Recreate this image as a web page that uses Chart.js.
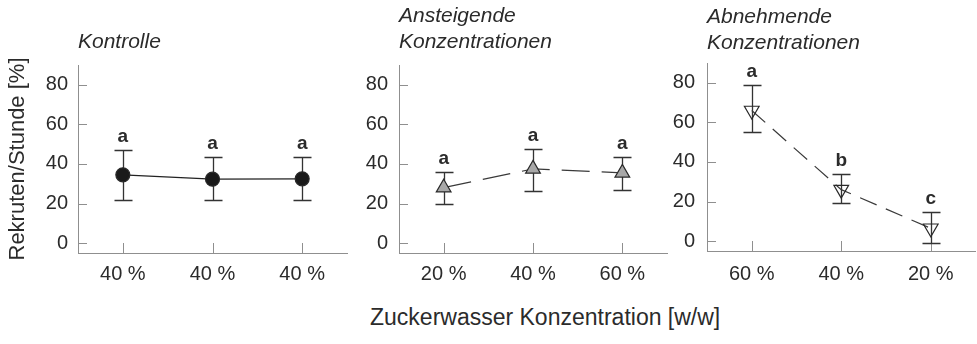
<!DOCTYPE html>
<html>
<head>
<meta charset="utf-8">
<script src="https://cdn.jsdelivr.net/npm/chart.js@4/dist/chart.umd.min.js"></script>
<style>
  html, body { margin: 0; padding: 0; background: #fff; }
  #wrap { position: relative; width: 977px; height: 344px; overflow: hidden;
          font-family: "Liberation Sans", Arial, sans-serif; }
  #wrap canvas { position: absolute; top: 0; }
  #xtitle { position: absolute; left: 370px; top: 303px; font-size: 23px; line-height: 28px;
            color: #2b2b2b; white-space: nowrap; }
</style>
</head>
<body>
<div id="wrap">
  <canvas id="c1" width="348" height="300" style="left:0px"></canvas>
  <canvas id="c2" width="320" height="300" style="left:348px"></canvas>
  <canvas id="c3" width="317" height="300" style="left:660px"></canvas>
  <div id="xtitle">Zuckerwasser Konzentration [w/w]</div>
</div>
<script>
// Tick values of the shared y axis (Rekruten/Stunde in %)
const yTickValues = [0, 20, 40, 60, 80];

// Kontrolle: constant 40 % sugar water
const kontrolleLabels = ['40 %', '40 %', '40 %'];
const kontrolleMean   = [34.5, 32.3, 32.5];
const kontrolleHigh   = [47, 43.5, 43.5];
const kontrolleLow    = [22, 22, 22];
const kontrolleGroups = ['a', 'a', 'a'];

// Ansteigende Konzentrationen
const ansteigendLabels = ['20 %', '40 %', '60 %'];
const ansteigendMean   = [28, 37.5, 35.5];
const ansteigendHigh   = [36, 47.5, 43.5];
const ansteigendLow    = [20, 26.5, 27];
const ansteigendGroups = ['a', 'a', 'a'];

// Abnehmende Konzentrationen
const abnehmendLabels = ['60 %', '40 %', '20 %'];
const abnehmendMean   = [66, 26, 6.5];
const abnehmendHigh   = [79, 34, 14.5];
const abnehmendLow    = [55, 19.5, -1];
const abnehmendGroups = ['a', 'b', 'c'];

const FONT = '"Liberation Sans", Arial, sans-serif';
const TEXT = '#2b2b2b';
const AXIS = '#8f8f8f';
const INK  = '#333333';

// Error bars (drawn under the markers) and significance letters above them
const errorBarPlugin = {
  id: 'errorBars',
  beforeDatasetsDraw(chart) {
    const ds = chart.data.datasets[0];
    const xs = chart.scales.x, ys = chart.scales.y, ctx = chart.ctx;
    ctx.save();
    ctx.strokeStyle = INK;
    ctx.lineWidth = 1.3;
    ds.data.forEach((v, i) => {
      const px = Math.round(xs.getPixelForValue(i)) + 0.5;
      const top = Math.round(ys.getPixelForValue(ds.errHigh[i])) + 0.5;
      const bot = Math.round(ys.getPixelForValue(ds.errLow[i])) + 0.5;
      ctx.beginPath();
      ctx.moveTo(px, top); ctx.lineTo(px, bot);
      ctx.moveTo(px - 9, top); ctx.lineTo(px + 9, top);
      ctx.moveTo(px - 9, bot); ctx.lineTo(px + 9, bot);
      ctx.stroke();
    });
    ctx.restore();
  },
  afterDatasetsDraw(chart) {
    const ds = chart.data.datasets[0];
    const xs = chart.scales.x, ys = chart.scales.y, ctx = chart.ctx;
    ctx.save();
    ctx.fillStyle = TEXT;
    ctx.font = 'bold 19px ' + FONT;
    ctx.textAlign = 'center';
    ctx.textBaseline = 'alphabetic';
    ds.data.forEach((v, i) => {
      const px = xs.getPixelForValue(i);
      const top = ys.getPixelForValue(ds.errHigh[i]);
      ctx.fillText(ds.groups[i], px, top - 8);
    });
    ctx.restore();
  }
};

// Short tick marks pointing into the plot area
const innerTicksPlugin = {
  id: 'innerTicks',
  beforeDatasetsDraw(chart) {
    const xs = chart.scales.x, ys = chart.scales.y, ctx = chart.ctx;
    const area = chart.chartArea;
    ctx.save();
    ctx.strokeStyle = AXIS;
    ctx.lineWidth = 1;
    ctx.beginPath();
    ys.ticks.forEach(t => {
      const py = Math.round(ys.getPixelForValue(t.value)) + 0.5;
      ctx.moveTo(area.left, py); ctx.lineTo(area.left + 9, py);
    });
    xs.ticks.forEach((t, i) => {
      const px = Math.round(xs.getPixelForValue(i)) + 0.5;
      ctx.moveTo(px, area.bottom); ctx.lineTo(px, area.bottom - 10);
    });
    ctx.stroke();
    ctx.restore();
  }
};

function makePanel(id, cfg) {
  const ds = {
    data: cfg.mean,
    errHigh: cfg.high,
    errLow: cfg.low,
    groups: cfg.groups,
    borderColor: cfg.lineColor,
    borderWidth: 1.2,
    borderDash: cfg.dash,
    fill: false,
    tension: 0,
    pointStyle: cfg.pointStyle,
    pointRotation: cfg.rotation,
    pointRadius: cfg.radius,
    pointHoverRadius: cfg.radius,
    pointBackgroundColor: cfg.pointFill,
    pointBorderColor: '#2a2a2a',
    pointBorderWidth: 1.2
  };
  return new Chart(document.getElementById(id), {
    type: 'line',
    data: { labels: cfg.labels, datasets: [ds] },
    plugins: [innerTicksPlugin, errorBarPlugin],
    options: {
      responsive: false,
      animation: false,
      layout: { autoPadding: false, padding: { left: 0, right: cfg.padRight, top: 0, bottom: 0 } },
      plugins: {
        legend: { display: false },
        tooltip: { enabled: false },
        title: {
          display: true,
          text: cfg.title,
          align: 'start',
          fullSize: false,
          color: TEXT,
          font: { family: FONT, size: 21, style: 'italic', weight: 'normal', lineHeight: 26 / 21 },
          padding: cfg.titlePad
        }
      },
      scales: {
        x: {
          type: 'category',
          offset: true,
          grid: { display: false, drawTicks: false, tickLength: 0 },
          border: { display: true, color: AXIS, width: 1 },
          ticks: { color: TEXT, font: { family: FONT, size: 20 }, padding: cfg.xPad, maxRotation: 0 },
          afterFit: s => { s.height = cfg.xHeight; s.paddingLeft = 0; s.paddingRight = 0; }
        },
        y: {
          type: 'linear',
          min: -5,
          max: 90,
          grid: { display: false, drawTicks: false, tickLength: 0 },
          border: { display: true, color: AXIS, width: 1 },
          ticks: { color: TEXT, font: { family: FONT, size: 20 }, padding: cfg.yPad },
          afterBuildTicks: s => { s.ticks = yTickValues.map(v => ({ value: v })); },
          afterFit: s => { s.width = cfg.yWidth; s.paddingTop = 0; s.paddingBottom = 0; },
          title: cfg.yTitle
            ? { display: true, text: cfg.yTitle, color: TEXT,
                font: { family: FONT, size: 22 }, padding: { top: 5, bottom: 0 } }
            : { display: false }
        }
      }
    }
  });
}

makePanel('c1', {
  title: 'Kontrolle',
  titlePad: { top: 29, bottom: 10 },
  labels: kontrolleLabels, mean: kontrolleMean, high: kontrolleHigh, low: kontrolleLow,
  groups: kontrolleGroups,
  lineColor: '#222222', dash: [],
  pointStyle: 'circle', rotation: 0, radius: 7, pointFill: '#1a1a1a',
  yWidth: 78, padRight: 1, xHeight: 47, xPad: 9, yPad: 10,
  yTitle: 'Rekruten/Stunde [%]'
});

makePanel('c2', {
  title: ['Ansteigende', 'Konzentrationen'],
  titlePad: { top: 3, bottom: 10 },
  labels: ansteigendLabels, mean: ansteigendMean, high: ansteigendHigh, low: ansteigendLow,
  groups: ansteigendGroups,
  lineColor: '#3a3a3a', dash: [28, 12],
  pointStyle: 'triangle', rotation: 0, radius: 8.5, pointFill: '#a8a8a8',
  yWidth: 51, padRight: 1, xHeight: 47, xPad: 9, yPad: 11
});

makePanel('c3', {
  title: ['Abnehmende', 'Konzentrationen'],
  titlePad: { top: 4, bottom: 7 },
  labels: abnehmendLabels, mean: abnehmendMean, high: abnehmendHigh, low: abnehmendLow,
  groups: abnehmendGroups,
  lineColor: '#3a3a3a', dash: [18, 10],
  pointStyle: 'triangle', rotation: 180, radius: 8.5, pointFill: 'rgba(255,255,255,0)',
  yWidth: 47, padRight: 1.5, xHeight: 49, xPad: 11, yPad: 12
});
</script>
</body>
</html>
